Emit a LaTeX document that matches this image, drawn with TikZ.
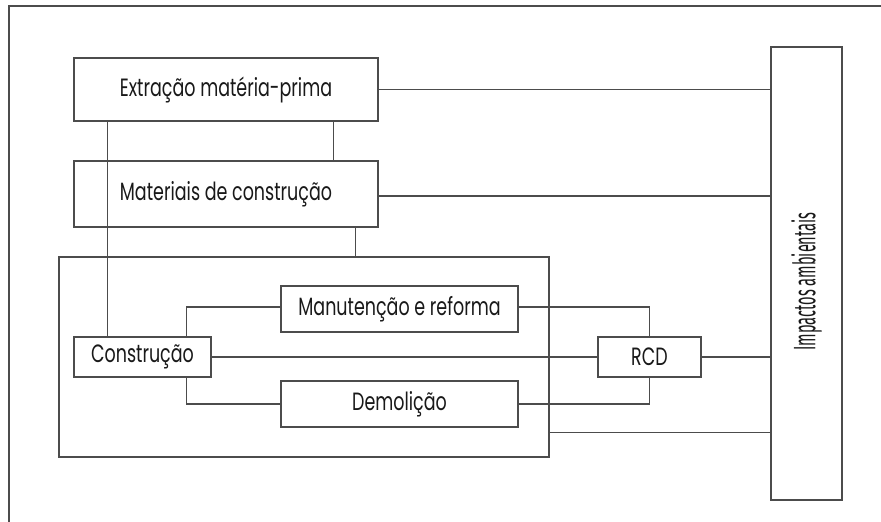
\documentclass[tikz,border=0pt]{standalone}
\usepackage{fontspec}
\setmainfont{Poppins}[FakeStretch=0.7]
\newfontfamily\narrowfont{Fira Sans}[FakeStretch=0.47]
\usepackage{tikz}

\tikzset{
    etapa/.style={draw=black!70, line width=1.3pt, inner sep=0pt, text=black!90,
        font=\fontsize{25}{28}\selectfont},
    liga/.style={draw=black!70, line width=1.3pt}
}

\begin{document}
\begin{tikzpicture}[x=1pt, y=-1pt]
    \useasboundingbox (0,0) rectangle (881,522);
    \draw[liga] (9,522) -- (9,6) -- (881,6);

    \node[etapa, minimum width=304pt, minimum height=63pt] (ext) at (226,89.5) {Extração matéria-prima};
    \node[etapa, minimum width=304pt, minimum height=66pt] (mat) at (226,194) {Materiais de construção};
    \node[etapa, minimum width=490pt, minimum height=200pt] (fase) at (304,357) {};
    \node[etapa, minimum width=137pt, minimum height=40pt] (constr) at (142.5,357) {Construção};
    \node[etapa, minimum width=237pt, minimum height=46pt] (man) at (399.5,309) {Manutenção e reforma};
    \node[etapa, minimum width=237pt, minimum height=46pt] (dem) at (399.5,404) {Demolição};
    \node[etapa, minimum width=103pt, minimum height=40pt] (rcd) at (649.5,357) {RCD};
    \node[etapa, minimum width=71pt, minimum height=453pt] (imp) at (806.5,273.5) {};
    \node[rotate=90, text=black!90, font=\narrowfont\fontsize{31}{34}\selectfont] (impt) at ([yshift=-8pt]imp.center) {Impactos ambientais};

    \draw[liga] (ext.east) -- (ext.east -| imp.west);
    \draw[liga] ([yshift=-2pt]mat.east) -- ([yshift=-2pt]mat.east -| imp.west);
    \draw[liga] ([xshift=34pt]ext.south west) -- ([xshift=34pt]constr.north west);
    \draw[liga] ([xshift=-45pt]ext.south east) -- ([xshift=-45pt]mat.north east);
    \draw[liga] ([xshift=-23pt]mat.south east) -- ([xshift=-23pt]mat.south east |- fase.north);
    \draw[liga] ([xshift=-25pt]constr.north east) |- ([yshift=2pt]man.west);
    \draw[liga] ([xshift=-25pt]constr.south east) |- (dem.west);
    \draw[liga] (constr.east) -- (rcd.west);
    \draw[liga] ([yshift=2pt]man.east) -| (rcd.north);
    \draw[liga] (dem.east) -| (rcd.south);
    \draw[liga] (rcd.east) -- (rcd.east -| imp.west);
    \draw[liga] ([yshift=25pt]fase.south east) -- ([yshift=25pt]fase.south east -| imp.west);
\end{tikzpicture}
\end{document}
